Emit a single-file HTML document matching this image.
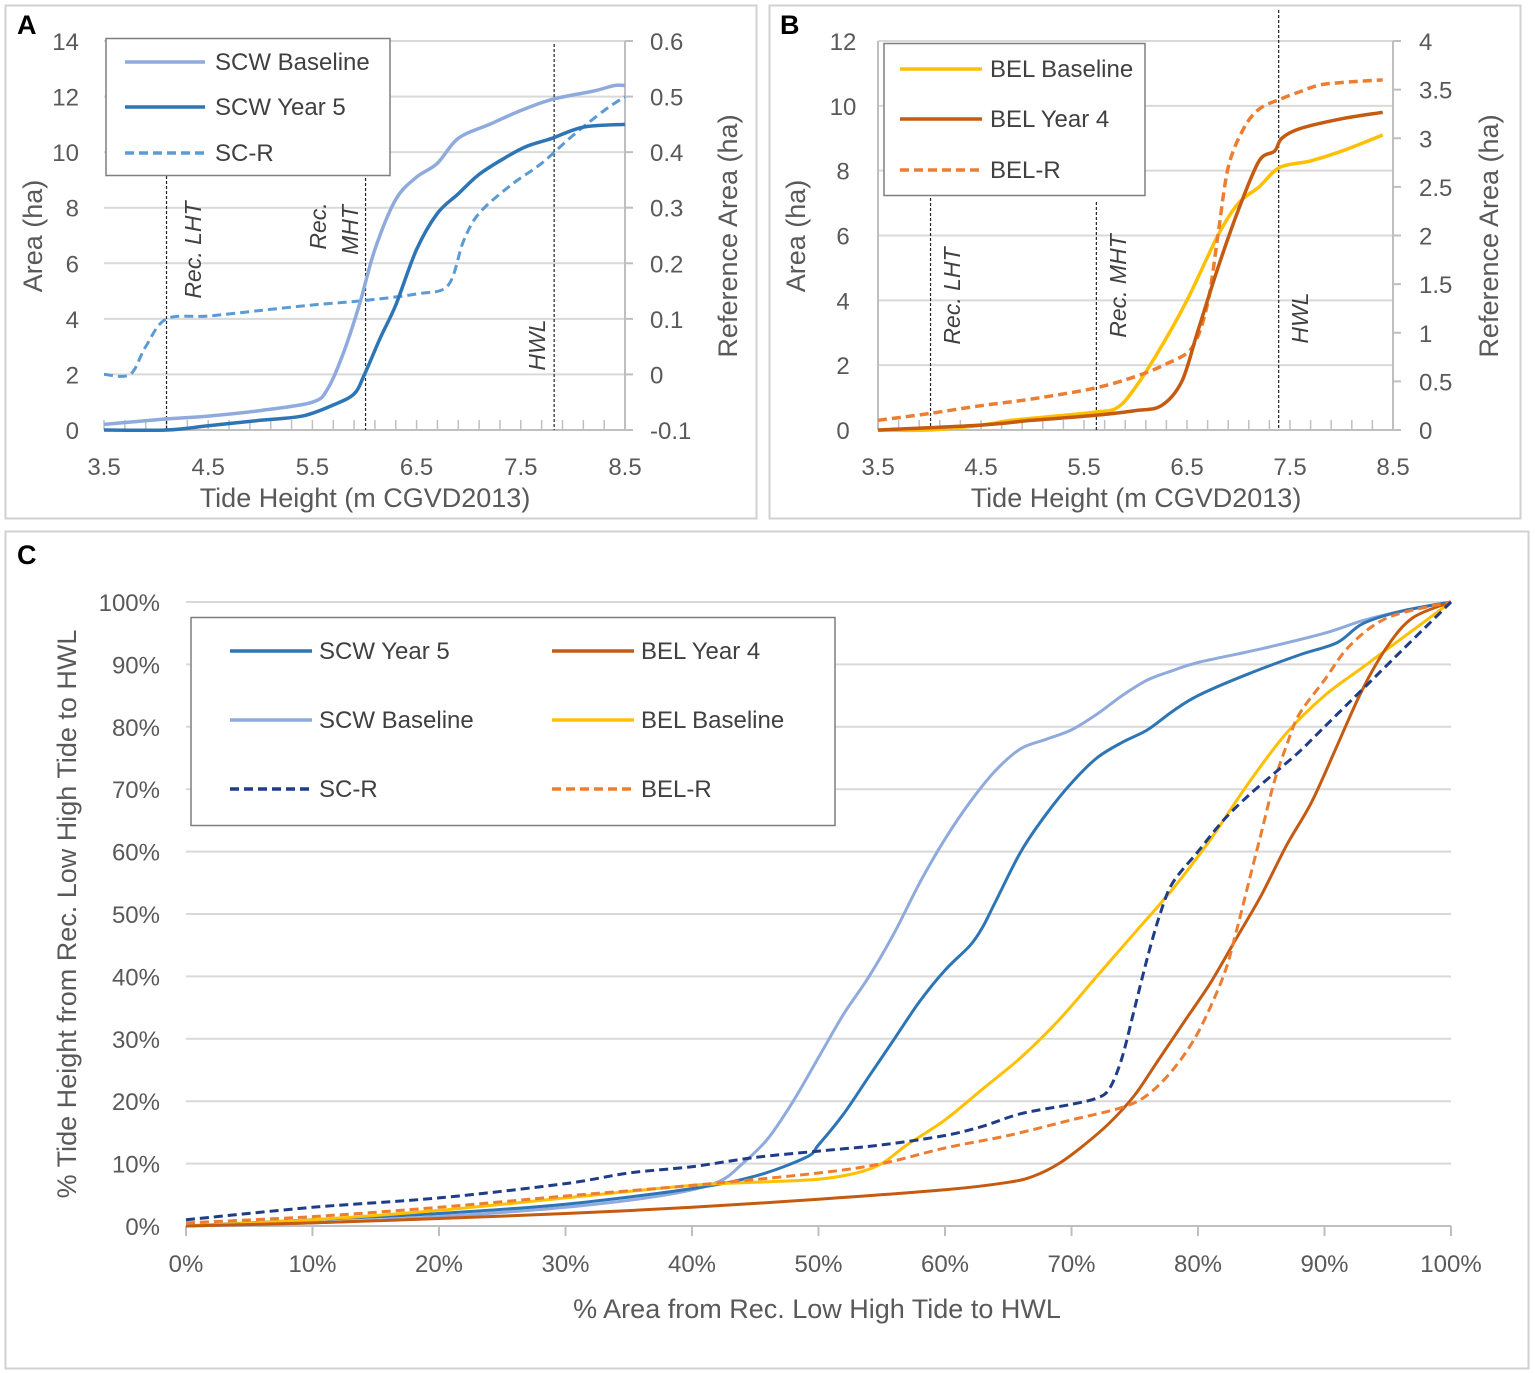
<!DOCTYPE html>
<html><head><meta charset="utf-8"><style>
body{margin:0;background:#fff}
svg{display:block;font-family:"Liberation Sans",sans-serif}
</style></head><body>
<svg id="fig" width="1535" height="1373" viewBox="0 0 1535 1373">
<rect x="0" y="0" width="1535" height="1373" fill="#fff"/>
<rect x="5.5" y="5.5" width="751" height="513" fill="none" stroke="#d0d0d0" stroke-width="2"/>
<rect x="769.5" y="5.5" width="751" height="513" fill="none" stroke="#d0d0d0" stroke-width="2"/>
<rect x="5.5" y="531.5" width="1523" height="837" fill="none" stroke="#d0d0d0" stroke-width="2"/>
<text x="17" y="34" font-size="27" font-weight="bold">A</text>
<text x="780" y="34" font-size="27" font-weight="bold">B</text>
<text x="17" y="564" font-size="27" font-weight="bold">C</text>
<g id="gA"></g><g id="gB"></g><g id="gC"></g>
</svg>
<script>
// ---------- Panel A data ----------
const aScwBaseX=[3.5,4.1,4.5,5.0,5.5,5.65,5.8,5.95,6.1,6.3,6.5,6.7,6.9,7.2,7.5,7.8,8.2,8.4,8.5];
const aScwBaseY=[0.2,0.4,0.5,0.7,1.0,1.5,2.8,4.5,6.5,8.3,9.1,9.6,10.5,11.0,11.5,11.9,12.2,12.4,12.4];
const aScwY5X=[3.5,4.1,4.5,5.0,5.4,5.7,5.9,6.0,6.15,6.3,6.5,6.7,6.9,7.1,7.35,7.55,7.8,8.1,8.5];
const aScwY5Y=[0,0,0.15,0.35,0.5,0.9,1.3,2.0,3.3,4.5,6.5,7.8,8.5,9.2,9.8,10.2,10.5,10.9,11.0];
const aScrX=[3.5,3.75,3.9,4.1,4.5,5.0,5.5,6.0,6.5,6.8,6.95,7.1,7.4,7.7,8.0,8.3,8.5];
const aScrY=[0,0,0.05,0.1,0.105,0.115,0.125,0.133,0.145,0.16,0.24,0.29,0.34,0.38,0.43,0.475,0.50];
const aLeftTicks=[0,2,4,6,8,10,12,14];
const aRightTicks=["-0.1","0","0.1","0.2","0.3","0.4","0.5","0.6"];
const xTicksAB=["3.5","4.5","5.5","6.5","7.5","8.5"];
// ---------- Panel B data ----------
const bBaseX=[3.5,4.0,4.5,4.8,5.3,5.6,5.8,5.95,6.2,6.5,6.8,7.0,7.2,7.4,7.7,8.0,8.4];
const bBaseY=[0,0,0.15,0.3,0.45,0.55,0.65,1.1,2.3,4.0,6.0,7.0,7.5,8.1,8.3,8.6,9.1];
const bY4X=[3.5,4.5,5.0,5.6,6.0,6.25,6.45,6.6,6.8,7.0,7.2,7.35,7.42,7.6,8.0,8.4];
const bY4Y=[0,0.15,0.3,0.45,0.6,0.75,1.5,3.0,5.0,6.8,8.3,8.6,9.0,9.3,9.6,9.8];
const bRX=[3.5,4.0,4.5,5.0,5.6,6.0,6.3,6.55,6.7,6.8,6.9,7.05,7.2,7.4,7.6,7.8,8.1,8.4];
const bRY=[0.1,0.17,0.25,0.32,0.43,0.55,0.68,0.85,1.3,2.0,2.7,3.1,3.3,3.4,3.48,3.55,3.58,3.6];
const bLeftTicks=[0,2,4,6,8,10,12];
const bRightTicks=["0","0.5","1","1.5","2","2.5","3","3.5","4"];
// ---------- Panel C data ----------
const cScwBaseX=[0,10,20,30,38,42,44,46,48,50,52,54,56,58,60,62,64,66,68,70,72,74,76,78,80,85,90,93,96,100];
const cScwBaseY=[0,0.5,1.5,3,5,7,10,14,20,27,34,40,47,55,62,68,73,76.5,78,79.5,82,85,87.5,89,90.3,92.5,95,97,98.5,100];
const cScwY5X=[0,10,20,30,40,45,49,50,52,54,56,58,60,62,63,64,66,68,70,72,74,76,78,80,84,88,91,93,96,100];
const cScwY5Y=[0,1,2,3.5,6,8,11,13,18,24,30,36,41,45,48,52,60,66,71,75,77.5,79.5,82.5,85,88.5,91.5,93.5,96.5,98.5,100];
const cScrX=[0,10,20,30,35,40,45,50,55,60,63,66,70,72,73,74,75,76,77,78,80,82,84,86,88,90,92,94,96,98,100];
const cScrY=[1,3,4.5,6.8,8.5,9.5,11,12,13,14.5,16,18,19.5,20.5,22,27,35,43,50,55,60,65,69,72.5,76,80,84,88,92,96,100];
const cBelBaseX=[0,10,20,30,40,45,50,53,55,57,60,63,66,69,72,75,78,81,84,87,90,93,96,100];
const cBelBaseY=[0,1,2.5,4.5,6.5,7,7.5,8.5,10,13,17,22,27,33,40,47,54,62,71,79,85,89.5,94,100];
const cBelY4X=[0,10,20,30,40,50,60,65,67,69,71,73,75,77,79,81,83,85,87,89,91,93,95,97,100];
const cBelY4Y=[0,0.5,1.2,2,3,4.3,5.8,7,8,10,13,16.5,21,27,33,39,46,53,61,68,77,86,93,97.5,100];
const cBelRX=[0,10,20,30,40,50,55,60,65,70,74,76,78,80,82,83,84,85,86,87,88,90,92,95,100];
const cBelRY=[0.5,1.5,3,4.8,6.5,8.5,10,12.5,14.5,17,19,21,25,31,40,47,55,63,71,77,82,87.5,93,97.5,100];
const cTicks=[0,10,20,30,40,50,60,70,80,90,100];

const NS="http://www.w3.org/2000/svg";
function mk(parent,tag,attrs,txt){const e=document.createElementNS(NS,tag);for(const k in attrs)e.setAttribute(k,attrs[k]);if(txt!==undefined)e.textContent=txt;parent.appendChild(e);return e;}
function smooth(pts){
  if(pts.length<2)return "";
  let d="M"+pts[0][0].toFixed(1)+","+pts[0][1].toFixed(1);
  for(let i=0;i<pts.length-1;i++){
    const p0=pts[Math.max(0,i-1)],p1=pts[i],p2=pts[i+1],p3=pts[Math.min(pts.length-1,i+2)];
    const t=0.16;
    const c1=[p1[0]+(p2[0]-p0[0])*t,p1[1]+(p2[1]-p0[1])*t];
    const c2=[p2[0]-(p3[0]-p1[0])*t,p2[1]-(p3[1]-p1[1])*t];
    d+="C"+c1[0].toFixed(1)+","+c1[1].toFixed(1)+" "+c2[0].toFixed(1)+","+c2[1].toFixed(1)+" "+p2[0].toFixed(1)+","+p2[1].toFixed(1);
  }
  return d;
}
function series(g,xs,ys,sx,sy,color,w,dash){
  const pts=xs.map((x,i)=>[sx(x),sy(ys[i])]);
  const p=mk(g,"path",{d:smooth(pts),fill:"none",stroke:color,"stroke-width":w,"stroke-linejoin":"round"});
  if(dash)p.setAttribute("stroke-dasharray",dash);
  return p;
}
const GRID="#d9d9d9",AX="#bfbfbf",TXT="#595959",FT=24,FA=27;

// ================= Panel A =================
(function(){
const g=document.getElementById("gA");
const x0=104,x1=625,yb=430,yt=41;
const sx=v=>x0+(v-3.5)/5*(x1-x0);
const sy=v=>yb-v/14*(yb-yt);
const sr=v=>yb-(v+0.1)/0.7*(yb-yt);
aLeftTicks.forEach(v=>{
  const gl=mk(g,"line",{x1:x0,x2:x1,y1:sy(v),y2:sy(v),stroke:GRID,"stroke-width":2});
  
  
  const t=mk(g,"text",{x:79,y:sy(v)+9,"text-anchor":"end","font-size":FT,fill:TXT},String(v));
  
  
});
aRightTicks.forEach(v=>{
  const y=sr(parseFloat(v));
  mk(g,"line",{x1:x1,x2:x1+8,y1:y,y2:y,stroke:AX,"stroke-width":2});
  const t=mk(g,"text",{x:650,y:y+9,"font-size":FT,fill:TXT},v);
  
  
});
mk(g,"line",{x1:x1,x2:x1,y1:yt,y2:yb,stroke:AX,"stroke-width":2});
mk(g,"line",{x1:x0,x2:x1,y1:yb,y2:yb,stroke:AX,"stroke-width":2});
for(let k=0;k<=25;k++){const x=sx(3.5+k*0.2);mk(g,"line",{x1:x,x2:x,y1:yb,y2:yb-10,stroke:AX,"stroke-width":1.5});}
xTicksAB.forEach(v=>{
  const t=mk(g,"text",{x:sx(parseFloat(v)),y:475,"text-anchor":"middle","font-size":FT,fill:TXT},v);
  
  
});
const xt=mk(g,"text",{x:365,y:507,"text-anchor":"middle","font-size":FA,fill:TXT},"Tide Height (m CGVD2013)");


const yl=mk(g,"text",{x:0,y:0,transform:"translate(42,236) rotate(-90)","text-anchor":"middle","font-size":FA,fill:TXT},"Area (ha)");


const yr=mk(g,"text",{x:0,y:0,transform:"translate(737,236) rotate(-90)","text-anchor":"middle","font-size":FA,fill:TXT},"Reference Area (ha)");


[[4.1,176],[6.01,178],[7.82,44]].forEach(r=>{mk(g,"line",{x1:sx(r[0]),x2:sx(r[0]),y1:r[1],y2:yb,stroke:"#222","stroke-width":1.2,"stroke-dasharray":"3,2"});});
mk(g,"text",{transform:"translate(201,250) rotate(-90)","text-anchor":"middle","font-size":23,"font-style":"italic",fill:"#404040"},"Rec. LHT");
mk(g,"text",{transform:"translate(326,226) rotate(-90)","text-anchor":"middle","font-size":23,"font-style":"italic",fill:"#404040"},"Rec.");
mk(g,"text",{transform:"translate(358,230) rotate(-90)","text-anchor":"middle","font-size":23,"font-style":"italic",fill:"#404040"},"MHT");
mk(g,"text",{transform:"translate(545,345) rotate(-90)","text-anchor":"middle","font-size":23,"font-style":"italic",fill:"#404040"},"HWL");
let s=series(g,aScrX,aScrY,sx,sr,"#5b9bd5",3,"9,5");


s=series(g,aScwBaseX,aScwBaseY,sx,sy,"#8faadc",3.5);


s=series(g,aScwY5X,aScwY5Y,sx,sy,"#2e75b6",3.5);


const lg=mk(g,"g",{});


mk(lg,"rect",{x:106,y:38.5,width:284,height:137,fill:"#fff",stroke:"#7f7f7f","stroke-width":1.5});
[["SCW Baseline","#8faadc",null,62],["SCW Year 5","#2e75b6",null,107],["SC-R","#5b9bd5","9,5",153]].forEach(e=>{
  const l=mk(lg,"line",{x1:125,x2:205,y1:e[3],y2:e[3],stroke:e[1],"stroke-width":3.5});
  if(e[2])l.setAttribute("stroke-dasharray",e[2]);
  mk(lg,"text",{x:215,y:e[3]+8,"font-size":24,fill:"#404040"},e[0]);
});
})();

// ================= Panel B =================
(function(){
const g=document.getElementById("gB");
const x0=878,x1=1393,yb=430,yt=41;
const sx=v=>x0+(v-3.5)/5*(x1-x0);
const sy=v=>yb-v/12*(yb-yt);
const sr=v=>yb-v/4*(yb-yt);
bLeftTicks.forEach(v=>{
  const gl=mk(g,"line",{x1:x0,x2:x1,y1:sy(v),y2:sy(v),stroke:GRID,"stroke-width":2});
  
  
  const t=mk(g,"text",{x:843,y:sy(v)+9,"text-anchor":"middle","font-size":FT,fill:TXT},String(v));
  
  
});
bRightTicks.forEach(v=>{
  const y=sr(parseFloat(v));
  mk(g,"line",{x1:x1,x2:x1+8,y1:y,y2:y,stroke:AX,"stroke-width":2});
  const t=mk(g,"text",{x:1419,y:y+9,"font-size":FT,fill:TXT},v);
  
  
});
mk(g,"line",{x1:x1,x2:x1,y1:yt,y2:yb,stroke:AX,"stroke-width":2});
mk(g,"line",{x1:x0,x2:x0,y1:yt,y2:yb,stroke:AX,"stroke-width":2});
mk(g,"line",{x1:x0,x2:x1,y1:yb,y2:yb,stroke:AX,"stroke-width":2});
for(let k=0;k<=25;k++){const x=sx(3.5+k*0.2);mk(g,"line",{x1:x,x2:x,y1:yb,y2:yb-10,stroke:AX,"stroke-width":1.5});}
xTicksAB.forEach(v=>{
  const t=mk(g,"text",{x:sx(parseFloat(v)),y:475,"text-anchor":"middle","font-size":FT,fill:TXT},v);
  
  
});
const xt=mk(g,"text",{x:1136,y:507,"text-anchor":"middle","font-size":FA,fill:TXT},"Tide Height (m CGVD2013)");


const yl=mk(g,"text",{transform:"translate(805,236) rotate(-90)","text-anchor":"middle","font-size":FA,fill:TXT},"Area (ha)");


const yr=mk(g,"text",{transform:"translate(1498,236) rotate(-90)","text-anchor":"middle","font-size":FA,fill:TXT},"Reference Area (ha)");


[[4.01,198],[5.62,202],[7.39,10]].forEach(r=>{mk(g,"line",{x1:sx(r[0]),x2:sx(r[0]),y1:r[1],y2:yb,stroke:"#222","stroke-width":1.2,"stroke-dasharray":"3,2"});});
mk(g,"text",{transform:"translate(960,296) rotate(-90)","text-anchor":"middle","font-size":23,"font-style":"italic",fill:"#404040"},"Rec. LHT");
mk(g,"text",{transform:"translate(1126,286) rotate(-90)","text-anchor":"middle","font-size":23,"font-style":"italic",fill:"#404040"},"Rec. MHT");
mk(g,"text",{transform:"translate(1308,318) rotate(-90)","text-anchor":"middle","font-size":23,"font-style":"italic",fill:"#404040"},"HWL");
let s=series(g,bBaseX,bBaseY,sx,sy,"#ffc000",3.5);


s=series(g,bRX,bRY,sx,sr,"#ed7d31",3.5,"9,5");


s=series(g,bY4X,bY4Y,sx,sy,"#c55a11",3.5);


const lg=mk(g,"g",{});


mk(lg,"rect",{x:884,y:43.5,width:261,height:152,fill:"#fff",stroke:"#7f7f7f","stroke-width":1.5});
[["BEL Baseline","#ffc000",null,69],["BEL Year 4","#c55a11",null,119],["BEL-R","#ed7d31","9,5",170]].forEach(e=>{
  const l=mk(lg,"line",{x1:900,x2:982,y1:e[3],y2:e[3],stroke:e[1],"stroke-width":3.5});
  if(e[2])l.setAttribute("stroke-dasharray",e[2]);
  mk(lg,"text",{x:990,y:e[3]+8,"font-size":24,fill:"#404040"},e[0]);
});
})();

// ================= Panel C =================
(function(){
const g=document.getElementById("gC");
const x0=186,x1=1451,yb=1226,yt=602;
const sx=v=>x0+v/100*(x1-x0);
const sy=v=>yb-v/100*(yb-yt);
cTicks.forEach(v=>{
  const gl=mk(g,"line",{x1:x0,x2:x1,y1:sy(v),y2:sy(v),stroke:GRID,"stroke-width":2});
  
  
  const t=mk(g,"text",{x:160,y:sy(v)+9,"text-anchor":"end","font-size":FT,fill:TXT},v+"%");
  
  
  mk(g,"line",{x1:sx(v),x2:sx(v),y1:yb,y2:yb+10,stroke:AX,"stroke-width":2});
  const tx=mk(g,"text",{x:sx(v),y:1272,"text-anchor":"middle","font-size":FT,fill:TXT},v+"%");
  
  
});
mk(g,"line",{x1:x0,x2:x1,y1:yb,y2:yb,stroke:AX,"stroke-width":2});
const xt=mk(g,"text",{x:817,y:1318,"text-anchor":"middle","font-size":FA,fill:TXT},"% Area from Rec. Low High Tide to HWL");


const yl=mk(g,"text",{transform:"translate(76,914) rotate(-90)","text-anchor":"middle","font-size":FA,fill:TXT},"% Tide Height from Rec. Low High Tide to HWL");


let s=series(g,cScwBaseX,cScwBaseY,sx,sy,"#8faadc",3);


s=series(g,cScwY5X,cScwY5Y,sx,sy,"#2e75b6",3);


s=series(g,cBelBaseX,cBelBaseY,sx,sy,"#ffc000",3);


s=series(g,cBelY4X,cBelY4Y,sx,sy,"#c55a11",3);


s=series(g,cBelRX,cBelRY,sx,sy,"#ed7d31",3,"9,5");


s=series(g,cScrX,cScrY,sx,sy,"#1f3c88",3,"9,5");


const lg=mk(g,"g",{});


mk(lg,"rect",{x:191,y:617.5,width:644,height:208,fill:"#fff",stroke:"#7f7f7f","stroke-width":1.5});
[["SCW Year 5","#2e75b6",null,230,651],["SCW Baseline","#8faadc",null,230,720],["SC-R","#1f3c88","9,5",230,789],
 ["BEL Year 4","#c55a11",null,552,651],["BEL Baseline","#ffc000",null,552,720],["BEL-R","#ed7d31","9,5",552,789]].forEach(e=>{
  const l=mk(lg,"line",{x1:e[3],x2:e[3]+82,y1:e[4],y2:e[4],stroke:e[1],"stroke-width":3.5});
  if(e[2])l.setAttribute("stroke-dasharray",e[2]);
  mk(lg,"text",{x:e[3]+89,y:e[4]+8,"font-size":24,fill:"#404040"},e[0]);
});
})();
</script>
</body></html>
